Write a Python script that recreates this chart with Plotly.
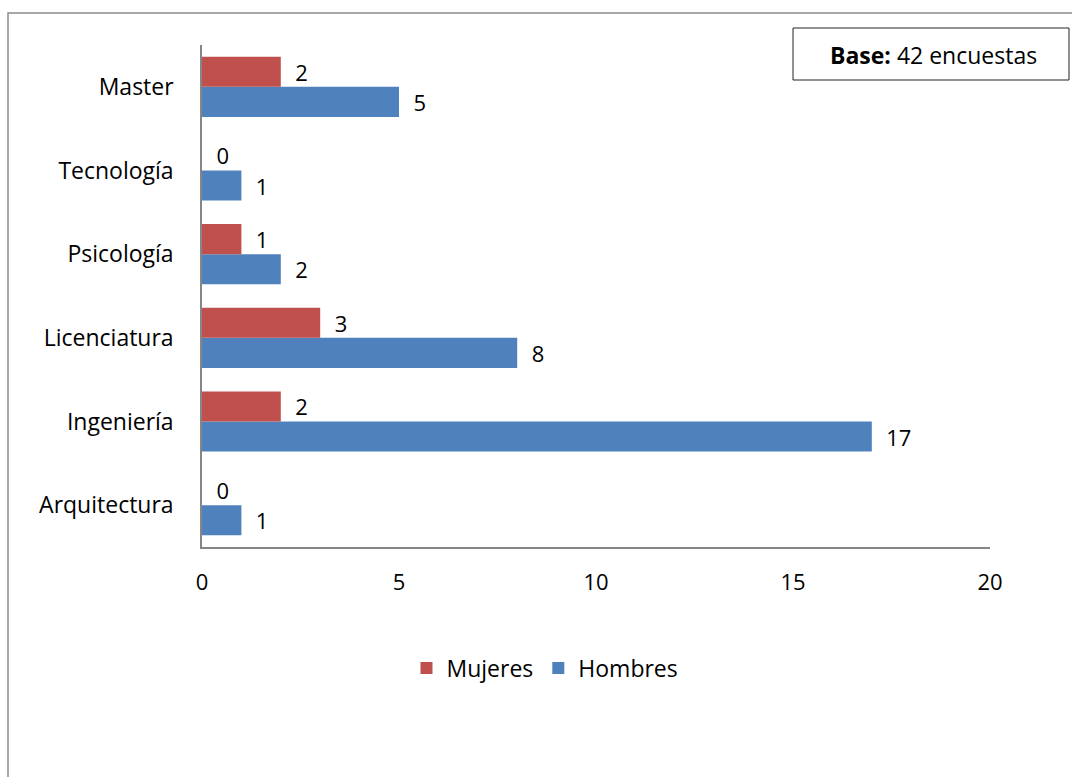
import plotly.graph_objects as go

# Survey respondents by degree and gender
categorias = ["Arquitectura", "Ingeniería", "Licenciatura", "Psicología", "Tecnología", "Master"]
hombres = [1, 17, 8, 2, 1, 5]
mujeres = [0, 2, 3, 1, 0, 2]
ticks_x = [0, 5, 10, 15, 20]

AZUL = "#4F81BD"
ROJO = "#C0504D"
GRIS = "#868686"
FUENTE = "Open Sans, sans-serif"
TXT = 23
NUM = 22

W, H = 1072, 777
L, R, T, B = 202, 82, 45, 230
pw, ph = W - L - R, H - T - B


def px_x(x):
    return (x - L) / pw


def px_y(y):
    return (H - B - y) / ph


pad = "\u00a0\u00a0"

fig = go.Figure()
fig.add_trace(go.Bar(
    y=categorias, x=hombres, name="Hombres", orientation="h",
    marker=dict(color=AZUL, line=dict(width=0)),
    text=[pad + str(v) for v in hombres], textposition="outside",
    textfont=dict(size=NUM, color="black", family=FUENTE),
    constraintext="none", cliponaxis=False,
))
fig.add_trace(go.Bar(
    y=categorias, x=mujeres, name="Mujeres", orientation="h",
    marker=dict(color=ROJO, line=dict(width=0)),
    text=[pad + str(v) for v in mujeres], textposition="outside",
    textfont=dict(size=NUM, color="black", family=FUENTE),
    constraintext="none", cliponaxis=False,
))

fig.update_layout(
    width=W, height=H,
    margin=dict(l=L, r=R, t=T, b=B, pad=0),
    paper_bgcolor="white", plot_bgcolor="white",
    font=dict(family=FUENTE, size=TXT, color="black"),
    barmode="group", bargap=0.28, bargroupgap=0,
    showlegend=True,
    legend=dict(
        orientation="h", traceorder="reversed",
        x=px_x(545), y=px_y(668), xanchor="center", yanchor="middle",
        font=dict(size=TXT, family=FUENTE), itemwidth=30,
    ),
    xaxis=dict(
        range=[0, 20], tickvals=ticks_x, showgrid=False, zeroline=False,
        showline=True, linecolor=GRIS, linewidth=1.5,
        ticks="", ticklabelstandoff=15, tickfont=dict(size=NUM),
    ),
    yaxis=dict(
        showgrid=False, zeroline=False, showline=True, linecolor=GRIS,
        linewidth=1.5, ticks="", ticklabelstandoff=22, tickfont=dict(size=TXT),
    ),
    shapes=[
        # outer frame of the chart area
        dict(type="rect", xref="paper", yref="paper",
             x0=px_x(8), x1=px_x(1090), y0=px_y(800), y1=px_y(13),
             line=dict(color="#8a8a8a", width=1.5), fillcolor="rgba(0,0,0,0)", layer="below"),
        # sample size box
        dict(type="rect", xref="paper", yref="paper",
             x0=px_x(793), x1=px_x(1069), y0=px_y(80), y1=px_y(28),
             line=dict(color="#222222", width=1), fillcolor="white"),
    ],
    annotations=[
        dict(xref="paper", yref="paper", x=px_x(933), y=px_y(55),
             text="<b>Base:</b> 42 encuestas", showarrow=False,
             xanchor="center", yanchor="middle", font=dict(size=TXT, family=FUENTE)),
    ],
)

fig.write_html("out.html")
